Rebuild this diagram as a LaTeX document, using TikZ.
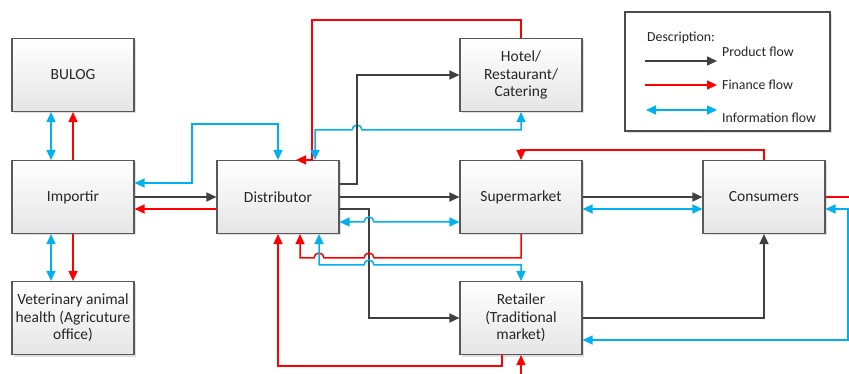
\documentclass[tikz,border=0pt]{standalone}
\usepackage{fontspec}
\setmainfont{Carlito}
\usetikzlibrary{arrows.meta,positioning,shadows}
\definecolor{prodgray}{HTML}{404040}
\definecolor{infoblue}{HTML}{00B0F0}
\tikzset{
	box/.style={draw=black!65,line width=1.1pt,rectangle,align=center,minimum width=122pt,minimum height=73pt,top color=white,bottom color=black!10,drop shadow={shadow xshift=2pt,shadow yshift=-2pt,opacity=0.25},font=\fontsize{15.5}{17.5}\selectfont,text=black!85},
	product/.style={draw=prodgray,line width=1.5pt,-{Triangle[length=10pt,width=9pt]}},
	finance/.style={draw=red,line width=1.5pt,-{Triangle[length=10pt,width=9pt]}},
	information/.style={draw=infoblue,line width=1.5pt,{Triangle[length=10pt,width=9pt]}-{Triangle[length=10pt,width=9pt]}},
	legtext/.style={font=\fontsize{13.8}{16}\selectfont,text=black!85,anchor=west,inner sep=0pt}
}

\begin{document}
\begin{tikzpicture}[x=1pt,y=-1pt]
			\useasboundingbox (0,0) rectangle (849,374);
			\node[box] (bulog) at (73,75) {BULOG};
			\node[box] (importir) at (73,197) {Importir};
			\node[box] (vet) at (73,318) {Veterinary animal\\health (Agricuture\\office)};
			\node[box] (dist) at (278,197) {Distributor};
			\node[box] (hotel) at (521,75) {Hotel/\\Restaurant/\\Catering};
			\node[box] (super) at (521,197) {Supermarket};
			\node[box] (retail) at (521,318) {Retailer\\(Traditional\\market)};
			\node[box] (cons) at (764,197) {Consumers};
			
			% legend
			\node[draw=black!70,line width=1.1pt,minimum width=205pt,minimum height=119pt,fill=white,drop shadow={shadow xshift=2pt,shadow yshift=-2pt,opacity=0.25}] (legend) at (727.5,71.5) {};
			\node[legtext] (desc) at (647,38) {Description:};
			\node[legtext] (prodtext) at (722,52) {Product flow};
			\node[legtext] (fintext) at (722,85) {Finance flow};
			\node[legtext] (infotext) at (722,118) {Information flow};
			\coordinate (p1) at (645,61);
			\coordinate (p2) at (717,61);
			\coordinate (f1) at (645,85);
			\coordinate (f2) at (717,85);
			\coordinate (i1) at (646,110);
			\coordinate (i2) at (717,110);
			\draw[product] (p1) -- (p2);
			\draw[finance] (f1) -- (f2);
			\draw[information] (i1) -- (i2);
			
			% importir
			\draw[information] ([xshift=-22pt]bulog.south) -- ([xshift=-22pt]importir.north);
			\draw[finance] (importir.north) -- (bulog.south);
			\draw[information] ([xshift=-22pt]importir.south) -- ([xshift=-22pt]vet.north);
			\draw[finance] (importir.south) -- (vet.north);
			\draw[product] (importir) -- (dist);
			\draw[finance] ([yshift=-12pt]dist.west) -- ([yshift=-12pt]importir.east);
			\draw[information] ([yshift=14pt]importir.east) -| (192,124) -| (dist.north);
			
			% distributor
			\draw[finance] (hotel.north) |- (312,20) -- ([xshift=34pt]dist.north) -- ([xshift=18pt]dist.north);
			\draw[information] (hotel.south) |- (362,130) arc (0:-180:5) -- (315,130) -- ([xshift=37pt]dist.north);
			\draw[product] ([yshift=13pt]dist.east) -| (357,75) -- (hotel.west);
			\draw[product] (dist) -- (super);
			\draw[product] ([yshift=-12pt]dist.east) -| (369,318) -- (retail.west);
			\draw[information] ([yshift=-25pt]dist.east) -- (364,222) arc (180:360:5) -- ([yshift=-25pt]super.west);
			\draw[finance] (super.south) |- (374,258) arc (0:-180:5) -- (324,258) arc (0:-180:5) -- (300,258) -- ([xshift=22pt]dist.south);
			\draw[information] ([xshift=41pt]dist.south) |- (364,265) arc (180:360:5) -| (retail.north);
			\draw[finance] ([xshift=-19pt]retail.south) |- (278,366) -- (dist.south);
			
			% consumers
			\begin{scope}
				\clip (0,0) rectangle (849,374);
				\draw[finance] (cons.east) -- (880,197) |- (521,400) -- (retail.south);
			\end{scope}
			\draw[information] ([yshift=-12pt]cons.east) -| (848,340) -- ([yshift=-22pt]retail.east);
			\draw[finance] (cons.north) |- (521,150) -- (super.north);
			\draw[product] (super) -- (cons);
			\draw[information] ([yshift=-12pt]super.east) -- ([yshift=-12pt]cons.west);
			\draw[product] (retail.east) -| (cons.south);
		\end{tikzpicture}
\end{document}
